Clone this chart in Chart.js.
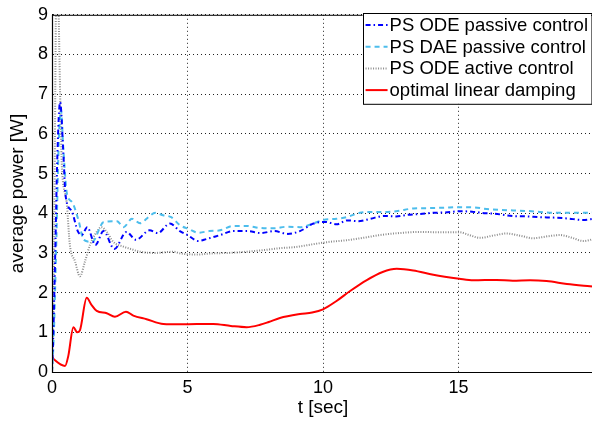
<!DOCTYPE html>
<html>
<head>
<meta charset="utf-8">
<script src="https://cdn.jsdelivr.net/npm/chart.js@4/dist/chart.umd.min.js"></script>
<style>
  html, body { margin:0; padding:0; background:#fff; overflow:hidden }
  #wrap { width:600px; height:423px }
</style>
</head>
<body>
<div id="wrap"><canvas id="c"></canvas></div>
<script>
// average power vs time, four controllers
const tOdePassive = [0, 0.05, 0.12, 0.2, 0.3, 0.42, 0.5, 0.73, 0.95, 1.1, 1.3, 1.6, 1.9, 2.3, 2.75, 3.1, 3.6, 3.9, 4.35, 4.72, 5.0, 5.4, 5.7, 6.2, 6.7, 7.2, 7.7, 8.2, 8.7, 9.15, 9.65, 10.1, 10.5, 10.9, 11.3, 11.75, 12.25, 12.7, 13.1, 13.6, 14.0, 14.5, 15.05, 15.5, 16.0, 16.3, 17.0, 17.5, 18.0, 18.5, 19.0, 19.6, 20]
const pOdePassive = [0, 1.0, 3.0, 5.5, 6.8, 5.5, 4.45, 4.05, 3.55, 3.45, 3.65, 3.2, 3.55, 3.1, 3.53, 3.33, 3.57, 3.5, 3.74, 3.55, 3.45, 3.3, 3.35, 3.45, 3.55, 3.55, 3.5, 3.55, 3.48, 3.55, 3.74, 3.78, 3.72, 3.82, 3.8, 3.86, 3.93, 3.92, 3.96, 3.98, 4.01, 4.02, 4.05, 4.04, 4.0, 3.99, 3.93, 3.92, 3.9, 3.89, 3.87, 3.83, 3.86]

const tDaePassive = [0, 0.06, 0.15, 0.25, 0.33, 0.42, 0.55, 0.74, 0.98, 1.17, 1.48, 1.91, 2.4, 2.64, 2.95, 3.25, 3.57, 3.81, 4.1, 4.4, 4.72, 5.05, 5.4, 5.8, 6.2, 6.69, 7.18, 7.67, 8.2, 8.66, 9.15, 9.64, 10.0, 10.5, 10.87, 11.36, 11.85, 12.23, 12.7, 13.33, 13.95, 14.5, 14.93, 15.42, 16.16, 17.02, 17.7, 18.5, 19.48, 20]
const pDaePassive = [0, 0.8, 3.0, 5.8, 6.6, 5.6, 4.5, 4.28, 3.82, 3.33, 3.28, 3.78, 3.8, 3.65, 3.86, 3.75, 3.91, 4.01, 3.95, 3.9, 3.7, 3.6, 3.51, 3.55, 3.57, 3.68, 3.68, 3.63, 3.62, 3.66, 3.65, 3.74, 3.83, 3.86, 3.9, 4.01, 4.03, 4.03, 4.05, 4.12, 4.13, 4.14, 4.15, 4.15, 4.1, 4.07, 4.05, 4.01, 4.01, 4.02]

const tOdeActive = [0, 0.08, 0.12, 0.16, 0.22, 0.3, 0.36, 0.54, 0.66, 0.85, 1.03, 1.22, 1.4, 1.65, 1.82, 2.02, 2.26, 2.63, 2.9, 3.25, 3.8, 4.48, 4.72, 5.34, 5.95, 6.5, 7.18, 7.8, 8.41, 9.0, 9.64, 10.25, 10.87, 11.48, 12.1, 12.8, 13.58, 14.3, 15.05, 15.4, 15.79, 16.3, 16.77, 17.3, 17.75, 18.3, 18.74, 19.2, 19.6, 20]
const pOdeActive = [0, 3.0, 7.0, 9.8, 9.6, 7.0, 5.27, 4.28, 3.2, 2.79, 2.41, 2.79, 3.2, 3.53, 3.65, 3.53, 3.28, 3.16, 3.1, 3.03, 3.0, 3.03, 2.99, 2.96, 2.99, 3.0, 3.03, 3.07, 3.12, 3.15, 3.22, 3.28, 3.32, 3.38, 3.45, 3.5, 3.53, 3.52, 3.52, 3.45, 3.38, 3.44, 3.49, 3.43, 3.37, 3.42, 3.45, 3.38, 3.3, 3.35]

const tLinear = [0, 0.1, 0.48, 0.6, 0.79, 0.93, 1.03, 1.28, 1.45, 1.65, 2.02, 2.32, 2.73, 3.0, 3.49, 4.11, 4.72, 5.34, 5.95, 6.6, 7.18, 7.68, 8.0, 8.41, 9.15, 9.6, 10.0, 10.5, 11.0, 11.6, 12.2, 12.72, 13.33, 14.07, 15.03, 15.55, 16.4, 17.0, 17.64, 18.25, 19.0, 19.85, 20]
const pLinear = [0.38, 0.3, 0.15, 0.4, 1.13, 1.0, 1.05, 1.87, 1.7, 1.54, 1.48, 1.39, 1.52, 1.42, 1.33, 1.21, 1.2, 1.21, 1.21, 1.16, 1.13, 1.19, 1.26, 1.36, 1.46, 1.5, 1.58, 1.79, 2.04, 2.31, 2.52, 2.6, 2.56, 2.45, 2.35, 2.31, 2.32, 2.3, 2.31, 2.29, 2.22, 2.16, 2.15]

const seriesNames = ['PS ODE passive control', 'PS DAE passive control', 'PS ODE active control', 'optimal linear damping']
const xTicks = [0, 5, 10, 15]

const pts = (ts, vs) => ts.map((t, i) => ({ x: t, y: vs[i] }))
const FONT = '"Liberation Sans", Arial, sans-serif'

// legend drawn inside the plot box, top right, like the original
const boxLegend = {
  id: 'boxLegend',
  afterDraw(chart){
    const ctx = chart.ctx, a = chart.chartArea
    ctx.save()
    // frame top edge
    ctx.strokeStyle = '#000'; ctx.lineWidth = 1; ctx.setLineDash([])
    ctx.beginPath(); ctx.moveTo(a.left, a.top + 0.5); ctx.lineTo(a.right, a.top + 0.5); ctx.stroke()

    ctx.font = '18.5px ' + FONT
    const ds = chart.data.datasets
    const w = Math.max(...ds.map(d => ctx.measureText(d.label).width)) + 30
    const rowH = 21.7
    const right = 591, top = 13
    const left = right - w, h = rowH * ds.length + 4
    ctx.fillStyle = '#fff'; ctx.fillRect(left, top, w, h)
    ctx.strokeStyle = '#000'; ctx.lineWidth = 1
    ctx.strokeRect(Math.round(left) + 0.5, top + 0.5, w, h)
    ds.forEach((d, i) => {
      const y = top + 12 + i * rowH
      ctx.strokeStyle = d.borderColor; ctx.lineWidth = d.borderWidth
      ctx.setLineDash(d.borderDash || [])
      ctx.beginPath(); ctx.moveTo(left + 3, y); ctx.lineTo(left + 25, y); ctx.stroke()
      ctx.setLineDash([])
      ctx.fillStyle = '#000'; ctx.textBaseline = 'middle'; ctx.textAlign = 'left'
      ctx.fillText(d.label, left + 27, y + 1)
    })
    ctx.restore()
  }
}

new Chart(document.getElementById('c'), {
  type: 'line',
  data: {
    datasets: [
      { label: seriesNames[0], data: pts(tOdePassive, pOdePassive), borderColor: '#0000ff', borderWidth: 2, borderDash: [5, 3, 1.5, 3] },
      { label: seriesNames[1], data: pts(tDaePassive, pDaePassive), borderColor: '#4cbdec', borderWidth: 2, borderDash: [5, 4] },
      { label: seriesNames[2], data: pts(tOdeActive, pOdeActive), borderColor: '#8c8c8c', borderWidth: 2, borderDash: [1, 1.5] },
      { label: seriesNames[3], data: pts(tLinear, pLinear), borderColor: '#ff0000', borderWidth: 2 }
    ]
  },
  options: {
    responsive: true,
    maintainAspectRatio: false,
    animation: false,
    layout: { padding: { top: 10, right: 6, left: 0, bottom: 0 } },
    elements: { point: { radius: 0 }, line: { cubicInterpolationMode: 'monotone' } },
    plugins: { legend: { display: false }, tooltip: { enabled: false } },
    scales: {
      x: {
        type: 'linear', min: 0, max: 20,
        afterFit: s => { s.height = 51 },
        afterBuildTicks: s => { s.ticks = xTicks.concat([20]).map(v => ({ value: v })) },
        ticks: { color: '#000', font: { family: FONT, size: 18 }, padding: 5, maxRotation: 0,
          callback: v => v === 20 ? '' : v },
        grid: { color: '#222', drawTicks: false },
        border: { display: true, color: '#000', width: 1, dash: [1, 3] },
        title: { display: true, text: 't [sec]', color: '#000', font: { family: FONT, size: 19 }, padding: { top: 0, bottom: 4 } }
      },
      y: {
        min: 0, max: 9,
        afterFit: s => { s.width = 52 },
        ticks: { stepSize: 1, color: '#000', font: { family: FONT, size: 18 }, padding: 4 },
        grid: { color: '#222', drawTicks: false },
        border: { display: true, color: '#000', width: 1, dash: [1, 3] },
        title: { display: true, text: 'average power [W]', color: '#000', font: { family: FONT, size: 19 }, padding: { top: 6, bottom: 0 } }
      }
    }
  },
  plugins: [boxLegend, {
    id: 'solidAxes',
    afterDatasetsDraw(chart){
      const ctx = chart.ctx, a = chart.chartArea
      ctx.save(); ctx.strokeStyle = '#000'; ctx.lineWidth = 1.2; ctx.setLineDash([])
      ctx.beginPath()
      ctx.moveTo(a.left + 0.5, a.top); ctx.lineTo(a.left + 0.5, a.bottom + 0.5); ctx.lineTo(a.right, a.bottom + 0.5)
      ctx.stroke(); ctx.restore()
    }
  }]
})
</script>
</body>
</html>
